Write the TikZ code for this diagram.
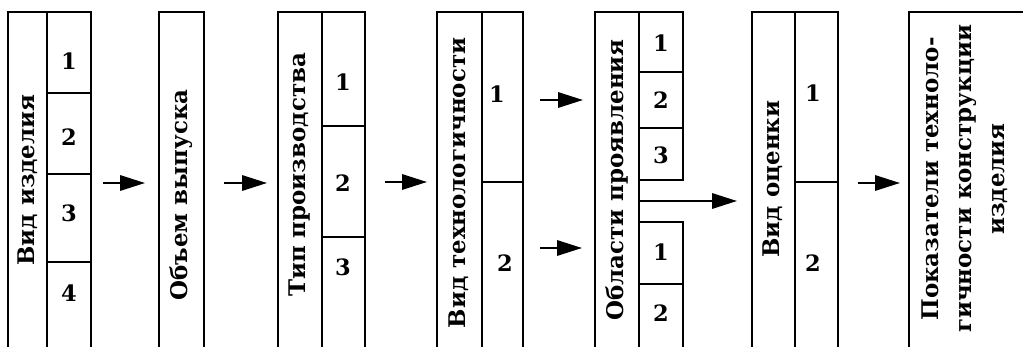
\documentclass[tikz,border=0pt]{standalone}
\usepackage{fontspec}
\setmainfont{DejaVu Serif}
\usetikzlibrary{arrows.meta}

\begin{document}
\begin{tikzpicture}[x=0.025cm, y=-0.025cm, line width=1.3pt,
  >={Triangle[length=0.62cm, width=0.38cm]},
  lbl/.style={font=\fontsize{16.3}{23.5}\selectfont\bfseries, rotate=90, align=center},
  num/.style={font=\fontsize{16}{18}\selectfont\bfseries},
  arr/.style={->, line width=1.6pt}]
  \useasboundingbox (0,0) rectangle (1023,347);

  % Вид изделия
  \draw (8,347) |- (91,12) -- (91,347);
  \draw (47,12) -- (47,347);
  \foreach \y in {93,174,262}
    \draw (47,\y) -- (91,\y);
  \node[lbl] (izd) at (28,180) {Вид изделия};
  \foreach \n/\y in {1/61, 2/137, 3/213, 4/293}
    \node[num] (izd\n) at (69,\y) {\n};

  % Объем выпуска
  \draw (159,347) |- (204,12) -- (204,347);
  \node[lbl] (vyp) at (181.5,195) {Объем выпуска};

  % Тип производства
  \draw (278,347) |- (365,12) -- (365,347);
  \draw (322,12) -- (322,347);
  \foreach \y in {126,237}
    \draw (322,\y) -- (365,\y);
  \node[lbl] (tip) at (300,175) {Тип производства};
  \foreach \n/\y in {1/82, 2/183, 3/267}
    \node[num] (tip\n) at (343,\y) {\n};

  % Вид технологичности
  \draw (437,347) |- (523,12) -- (523,347);
  \draw (482,12) -- (482,347);
  \draw (482,182) -- (523,182);
  \node[lbl] (tech) at (459,183) {Вид технологичности};
  \node[num] (tech1) at (497,94) {1};
  \node[num] (tech2) at (505,263) {2};

  % Области проявления
  \draw (595,347) |- (683,12) -- (683,180) -- (639,180);
  \draw (639,12) -- (639,347);
  \draw (639,222) -| (683,347);
  \foreach \y in {72,128,284}
    \draw (639,\y) -- (683,\y);
  \node[lbl] (obl) at (617,180) {Области проявления};
  \foreach \n/\y in {1/43, 2/100, 3/155}
    \node[num] (oblA\n) at (661,\y) {\n};
  \foreach \n/\y in {1/252, 2/313}
    \node[num] (oblB\n) at (661,\y) {\n};

  % Вид оценки
  \draw (752,347) |- (838,12) -- (838,347);
  \draw (795,12) -- (795,347);
  \draw (795,182) -- (838,182);
  \node[lbl] (ocn) at (773,179) {Вид оценки};
  \node[num] (ocn1) at (813,93) {1};
  \node[num] (ocn2) at (813,263) {2};

  % Показатели
  \draw (909,347) |- (1030,12);
  \node[lbl] (pok) at (965,179) {Показатели техноло-\\гичности конструкции\\изделия};

  % Arrows
  \foreach \i/\xa/\xb/\y in {1/103/145/183, 2/224/267/183, 3/385/427/182,
                             4/540/583/100, 5/540/582/248, 6/639/737/201,
                             7/858/900/183} {
    \coordinate (s\i) at (\xa,\y);
    \coordinate (e\i) at (\xb,\y);
    \draw[arr] (s\i) -- (e\i);
  }
\end{tikzpicture}
\end{document}
